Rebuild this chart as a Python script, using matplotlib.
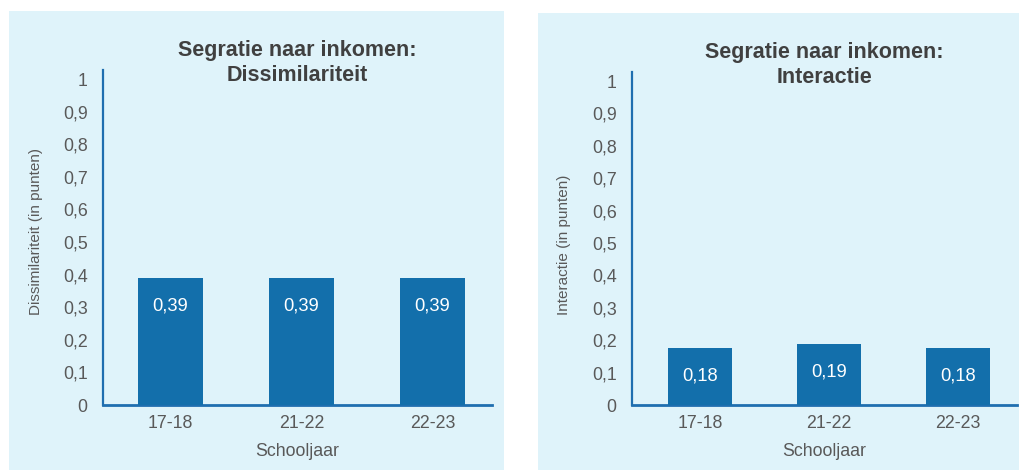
import matplotlib
matplotlib.use("Agg")
import matplotlib.pyplot as plt
from matplotlib.patches import Rectangle

plt.rcParams['font.family'] = ['Liberation Sans', 'DejaVu Sans']

# ---- data ----
categories = ["17-18", "21-22", "22-23"]
dissimilariteit = [0.39, 0.39, 0.39]
interactie = [0.177, 0.187, 0.177]
yticks = [0, 0.1, 0.2, 0.3, 0.4, 0.5, 0.6, 0.7, 0.8, 0.9, 1.0]
ytick_labels = ["0", "0,1", "0,2", "0,3", "0,4", "0,5", "0,6", "0,7", "0,8", "0,9", "1"]
titles = ["Segratie naar inkomen:\nDissimilariteit", "Segratie naar inkomen:\nInteractie"]
ylabels = ["Dissimilariteit (in punten)", "Interactie (in punten)"]
xlabel = "Schooljaar"

# ---- style ----
W, H = 1019, 470
BG = "#DFF3FA"
BAR = "#136FAB"
SPINE = "#1F6EAF"
TXT = "#595959"
TTL = "#404040"

fig = plt.figure(figsize=(W / 100, H / 100), dpi=100, facecolor="white")

def px_rect(x0, y0, x1, y1):
    return (x0 / W, 1 - y1 / H, (x1 - x0) / W, (y1 - y0) / H)

# panel backgrounds
for (x0, y0, x1, y1) in [(9, 11, 504, 470), (538, 13, 1019, 470)]:
    l, b, w, h = px_rect(x0, y0, x1, y1)
    fig.patches.append(Rectangle((l, b), w, h, transform=fig.transFigure,
                                 facecolor=BG, edgecolor="none", zorder=-10))

panels = [
    dict(rect=px_rect(103, 70, 492, 405), xlim=(-0.515, 2.454), vals=dissimilariteit,
         title=titles[0], ylabel=ylabels[0], ylabel_x=36),
    dict(rect=px_rect(632, 72, 1017, 405), xlim=(-0.527, 2.457), vals=interactie,
         title=titles[1], ylabel=ylabels[1], ylabel_x=564),
]

for p in panels:
    ax = fig.add_axes(p["rect"])
    ax.set_facecolor("none")
    x = list(range(len(categories)))
    bars = ax.bar(x, p["vals"], width=0.5, color=BAR, zorder=3)
    ax.set_xlim(*p["xlim"])
    ax.set_ylim(0, 1.028)
    ax.set_yticks(yticks)
    ax.set_yticklabels(ytick_labels)
    ax.set_xticks(x)
    ax.set_xticklabels(categories)
    ax.tick_params(axis="y", length=0, pad=11, labelsize=12.8, labelcolor=TXT)
    ax.tick_params(axis="x", length=0, pad=7, labelsize=12.8, labelcolor=TXT)
    for s in ["top", "right"]:
        ax.spines[s].set_visible(False)
    ax.spines["left"].set_color(SPINE)
    ax.spines["left"].set_linewidth(1.6)
    ax.spines["bottom"].set_color(SPINE)
    ax.spines["bottom"].set_linewidth(2.0)
    ax.set_xlabel(xlabel, fontsize=12.8, color=TXT, labelpad=8)
    fig.text(p["ylabel_x"] / W, 1 - 315 / H, p["ylabel"], rotation=90,
             ha="center", va="bottom", fontsize=11, color=TXT)
    ax.text(0.5, 1.022, p["title"], transform=ax.transAxes, ha="center", va="center",
            fontsize=15.5, fontweight="bold", color=TTL, linespacing=1.25)
    for b, v in zip(bars, p["vals"]):
        ax.annotate(f"{v:.2f}".replace(".", ","),
                    (b.get_x() + b.get_width() / 2, b.get_height()),
                    xytext=(0, -28), textcoords="offset pixels",
                    ha="center", va="center", fontsize=13.2, color="white", zorder=4)

fig.savefig("out.png", dpi=100, facecolor="white")
